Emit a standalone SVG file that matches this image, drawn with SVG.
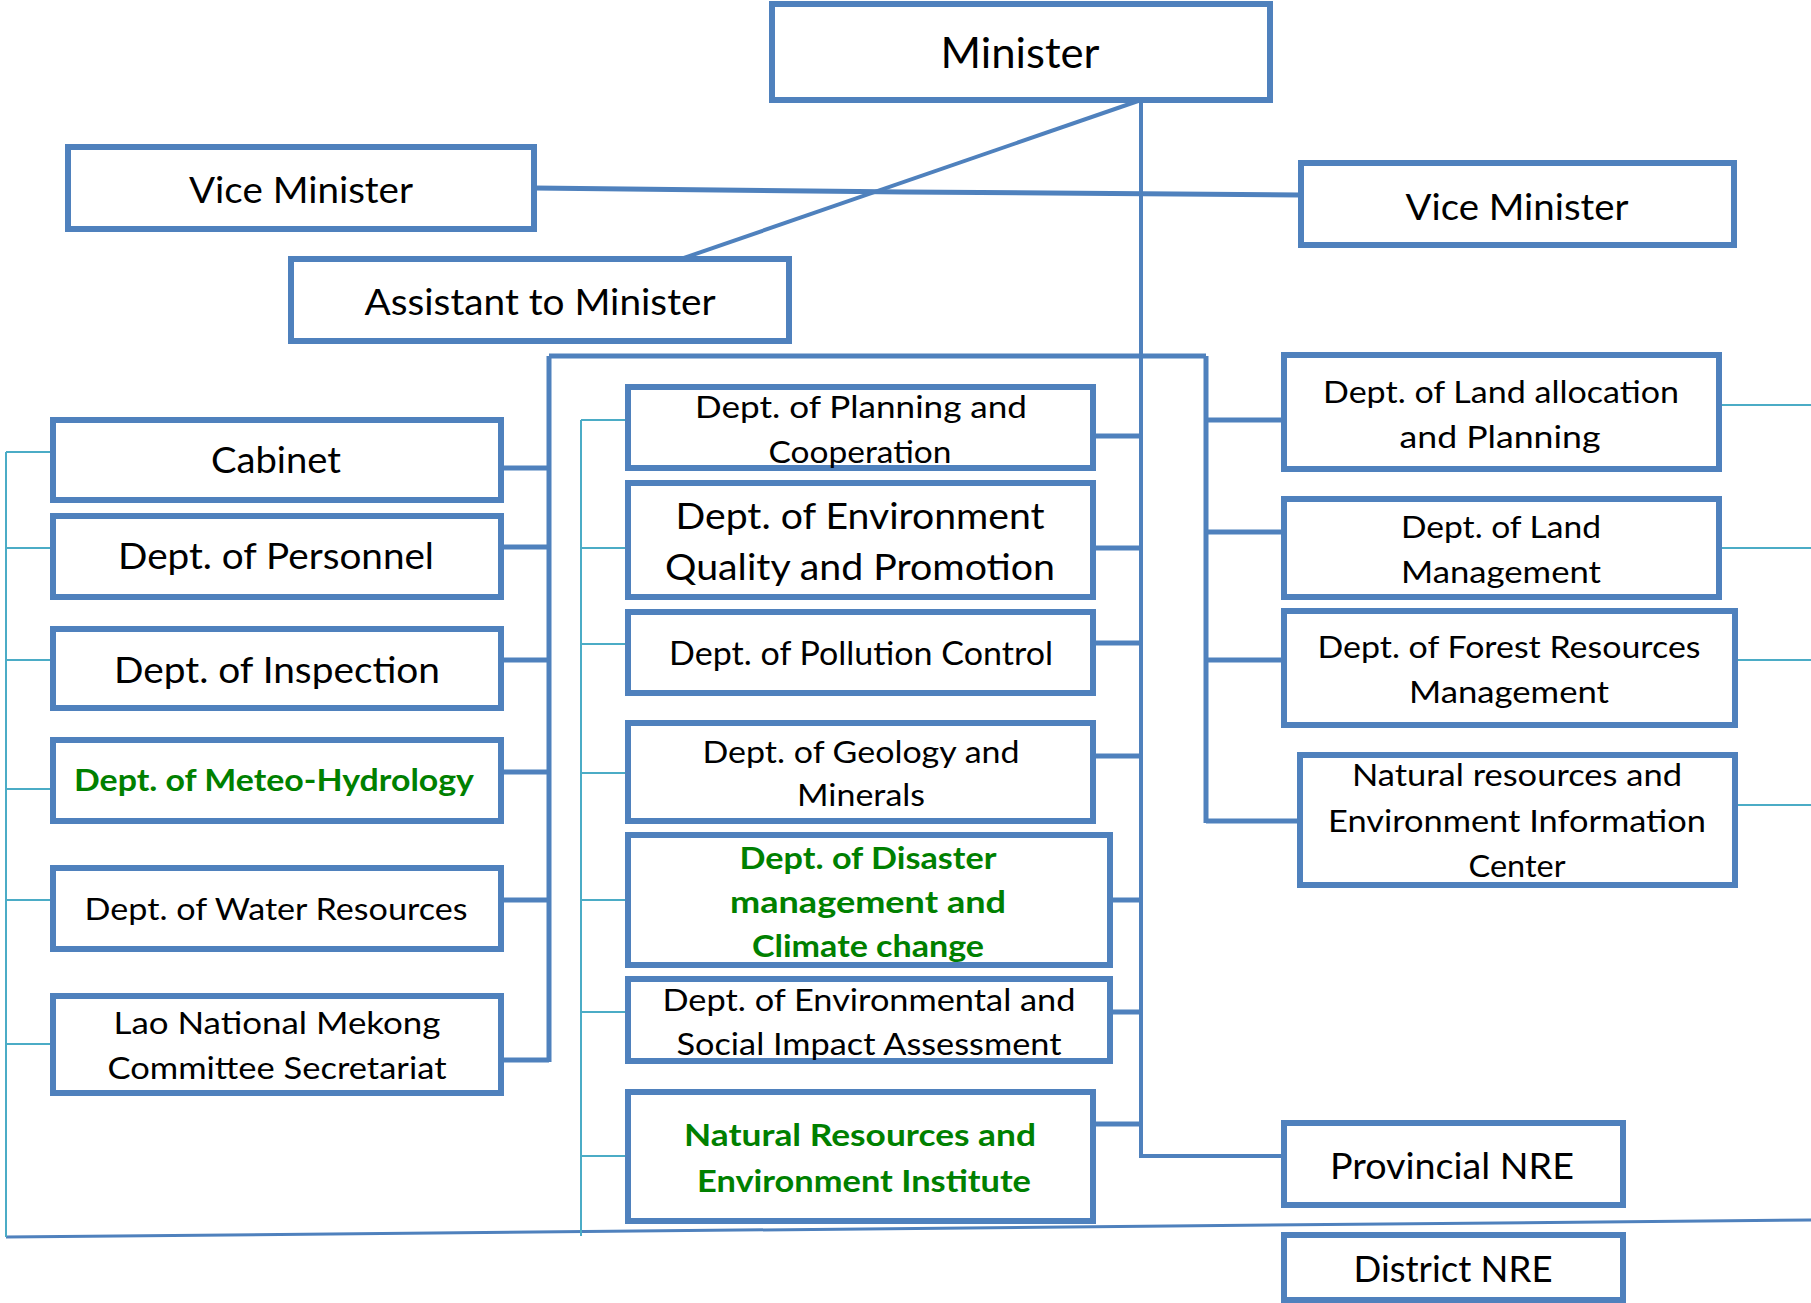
<svg xmlns="http://www.w3.org/2000/svg" width="1811" height="1303" viewBox="0 0 1811 1303">
<style>
.box{fill:#fff;stroke:#4F81BD;stroke-width:6}
.t{font-family:Lato,"Liberation Sans",sans-serif;fill:#000;text-anchor:middle}
.g{font-family:Lato,"Liberation Sans",sans-serif;fill:#008000;font-weight:bold;text-anchor:middle}
.bl{stroke:#4F81BD;fill:none}
.tl{stroke:#4BACC6;fill:none;stroke-width:2}
</style>
<rect width="1811" height="1303" fill="#fff"/>
<g id="connectors">
  <path class="bl" stroke-width="4" d="M1141,100 V1156 H1284"/>
  <path class="bl" stroke-width="4" d="M1141,100 L678,260"/>
  <path class="bl" stroke-width="5" d="M534,188 L905,192 L1300,195"/>
  <path class="bl" stroke-width="5" d="M549,356 H1206 M549,356 V1062 M1206,356 V823"/>
  <path class="bl" stroke-width="5" d="M501,468 H549 M501,547 H549 M501,660 H549 M501,772 H549 M501,900 H549 M501,1060 H549"/>
  <path class="bl" stroke-width="5" d="M1206,420 H1284 M1206,532 H1284 M1206,660 H1284 M1206,821 H1300"/>
  <path class="bl" stroke-width="5" d="M1093,436 H1141 M1093,548 H1141 M1093,643 H1141 M1093,756 H1141 M1110,900 H1141 M1110,1012 H1141 M1093,1124 H1141"/>
  <path class="bl" stroke-width="3" d="M6,1237 L1811,1220"/>
  <path class="tl" d="M6,452 V1237 M6,452 H53 M6,548 H53 M6,660 H53 M6,789 H53 M6,900 H53 M6,1044 H53"/>
  <path class="tl" d="M581,420 V1236 M581,420 H628 M581,548 H628 M581,644 H628 M581,773 H628 M581,900 H628 M581,1012 H628 M581,1156 H628"/>
  <path class="tl" d="M1719,405 H1811 M1719,548 H1811 M1735,660 H1811 M1735,805 H1811"/>
</g>
<g id="minister"><rect class="box" x="772" y="4" width="498" height="96"/><text class="t" x="1020" y="68" font-size="42" textLength="159" lengthAdjust="spacingAndGlyphs">Minister</text></g>
<g id="vice-minister-left"><rect class="box" x="68" y="147" width="466" height="82"/><text class="t" x="301" y="203" font-size="36" textLength="224" lengthAdjust="spacingAndGlyphs">Vice Minister</text></g>
<g id="vice-minister-right"><rect class="box" x="1301" y="163" width="433" height="82"/><text class="t" x="1517" y="220" font-size="36" textLength="223" lengthAdjust="spacingAndGlyphs">Vice Minister</text></g>
<g id="assistant"><rect class="box" x="291" y="259" width="498" height="82"/><text class="t" x="540" y="315" font-size="36" textLength="351" lengthAdjust="spacingAndGlyphs">Assistant to Minister</text></g>
<g id="cabinet"><rect class="box" x="53" y="420" width="448" height="80"/><text class="t" x="276" y="473" font-size="36" textLength="130" lengthAdjust="spacingAndGlyphs">Cabinet</text></g>
<g id="personnel"><rect class="box" x="53" y="516" width="448" height="81"/><text class="t" x="276" y="569" font-size="36" textLength="316" lengthAdjust="spacingAndGlyphs">Dept. of Personnel</text></g>
<g id="inspection"><rect class="box" x="53" y="629" width="448" height="79"/><text class="t" x="277" y="683" font-size="36" textLength="326" lengthAdjust="spacingAndGlyphs">Dept. of Inspection</text></g>
<g id="meteo"><rect class="box" x="53" y="740" width="448" height="81"/><text class="g" x="274" y="791" font-size="30" textLength="400" lengthAdjust="spacingAndGlyphs">Dept. of Meteo-Hydrology</text></g>
<g id="water"><rect class="box" x="53" y="868" width="448" height="81"/><text class="t" x="276" y="920" font-size="31" textLength="383" lengthAdjust="spacingAndGlyphs">Dept. of Water Resources</text></g>
<g id="mekong"><rect class="box" x="53" y="996" width="448" height="97"/><text class="t" x="277" y="1034" font-size="31" textLength="327" lengthAdjust="spacingAndGlyphs">Lao National Mekong</text><text class="t" x="277" y="1079" font-size="31" textLength="339" lengthAdjust="spacingAndGlyphs">Committee Secretariat</text></g>
<g id="planning"><rect class="box" x="628" y="387" width="465" height="81"/><text class="t" x="861" y="418" font-size="31" textLength="332" lengthAdjust="spacingAndGlyphs">Dept. of Planning and</text><text class="t" x="860" y="463" font-size="31" textLength="183" lengthAdjust="spacingAndGlyphs">Cooperation</text></g>
<g id="env-quality"><rect class="box" x="628" y="483" width="465" height="114"/><text class="t" x="860" y="529" font-size="36" textLength="369" lengthAdjust="spacingAndGlyphs">Dept. of Environment</text><text class="t" x="860" y="580" font-size="36" textLength="390" lengthAdjust="spacingAndGlyphs">Quality and Promotion</text></g>
<g id="pollution"><rect class="box" x="628" y="612" width="465" height="81"/><text class="t" x="861" y="665" font-size="33" textLength="384" lengthAdjust="spacingAndGlyphs">Dept. of Pollution Control</text></g>
<g id="geology"><rect class="box" x="628" y="723" width="465" height="98"/><text class="t" x="861" y="763" font-size="31" textLength="317" lengthAdjust="spacingAndGlyphs">Dept. of Geology and</text><text class="t" x="861" y="806" font-size="31" textLength="128" lengthAdjust="spacingAndGlyphs">Minerals</text></g>
<g id="disaster"><rect class="box" x="628" y="835" width="482" height="130"/><text class="g" x="868" y="869" font-size="30" textLength="257" lengthAdjust="spacingAndGlyphs">Dept. of Disaster</text><text class="g" x="868" y="913" font-size="30" textLength="276" lengthAdjust="spacingAndGlyphs">management and</text><text class="g" x="868" y="957" font-size="30" textLength="232" lengthAdjust="spacingAndGlyphs">Climate change</text></g>
<g id="esia"><rect class="box" x="628" y="979" width="482" height="82"/><text class="t" x="869" y="1011" font-size="31" textLength="413" lengthAdjust="spacingAndGlyphs">Dept. of Environmental and</text><text class="t" x="869" y="1055" font-size="31" textLength="385" lengthAdjust="spacingAndGlyphs">Social Impact Assessment</text></g>
<g id="nrei"><rect class="box" x="628" y="1092" width="465" height="129"/><text class="g" x="860" y="1146" font-size="30" textLength="352" lengthAdjust="spacingAndGlyphs">Natural Resources and</text><text class="g" x="864" y="1192" font-size="30" textLength="334" lengthAdjust="spacingAndGlyphs">Environment Institute</text></g>
<g id="land-allocation"><rect class="box" x="1284" y="355" width="435" height="114"/><text class="t" x="1501" y="403" font-size="31" textLength="356" lengthAdjust="spacingAndGlyphs">Dept. of Land allocation</text><text class="t" x="1500" y="448" font-size="31" textLength="201" lengthAdjust="spacingAndGlyphs">and Planning</text></g>
<g id="land-management"><rect class="box" x="1284" y="499" width="435" height="98"/><text class="t" x="1501" y="538" font-size="31" textLength="200" lengthAdjust="spacingAndGlyphs">Dept. of Land</text><text class="t" x="1501" y="583" font-size="31" textLength="200" lengthAdjust="spacingAndGlyphs">Management</text></g>
<g id="forest"><rect class="box" x="1284" y="611" width="451" height="114"/><text class="t" x="1509" y="658" font-size="31" textLength="383" lengthAdjust="spacingAndGlyphs">Dept. of Forest Resources</text><text class="t" x="1509" y="703" font-size="31" textLength="200" lengthAdjust="spacingAndGlyphs">Management</text></g>
<g id="info-center"><rect class="box" x="1300" y="755" width="435" height="130"/><text class="t" x="1517" y="786" font-size="31" textLength="330" lengthAdjust="spacingAndGlyphs">Natural resources and</text><text class="t" x="1517" y="832" font-size="31" textLength="378" lengthAdjust="spacingAndGlyphs">Environment Information</text><text class="t" x="1517" y="877" font-size="31" textLength="97" lengthAdjust="spacingAndGlyphs">Center</text></g>
<g id="provincial"><rect class="box" x="1284" y="1123" width="339" height="82"/><text class="t" x="1452" y="1179" font-size="37" textLength="244" lengthAdjust="spacingAndGlyphs">Provincial NRE</text></g>
<g id="district"><rect class="box" x="1284" y="1235" width="339" height="65"/><text class="t" x="1453" y="1282" font-size="37" textLength="199" lengthAdjust="spacingAndGlyphs">District NRE</text></g>
</svg>
